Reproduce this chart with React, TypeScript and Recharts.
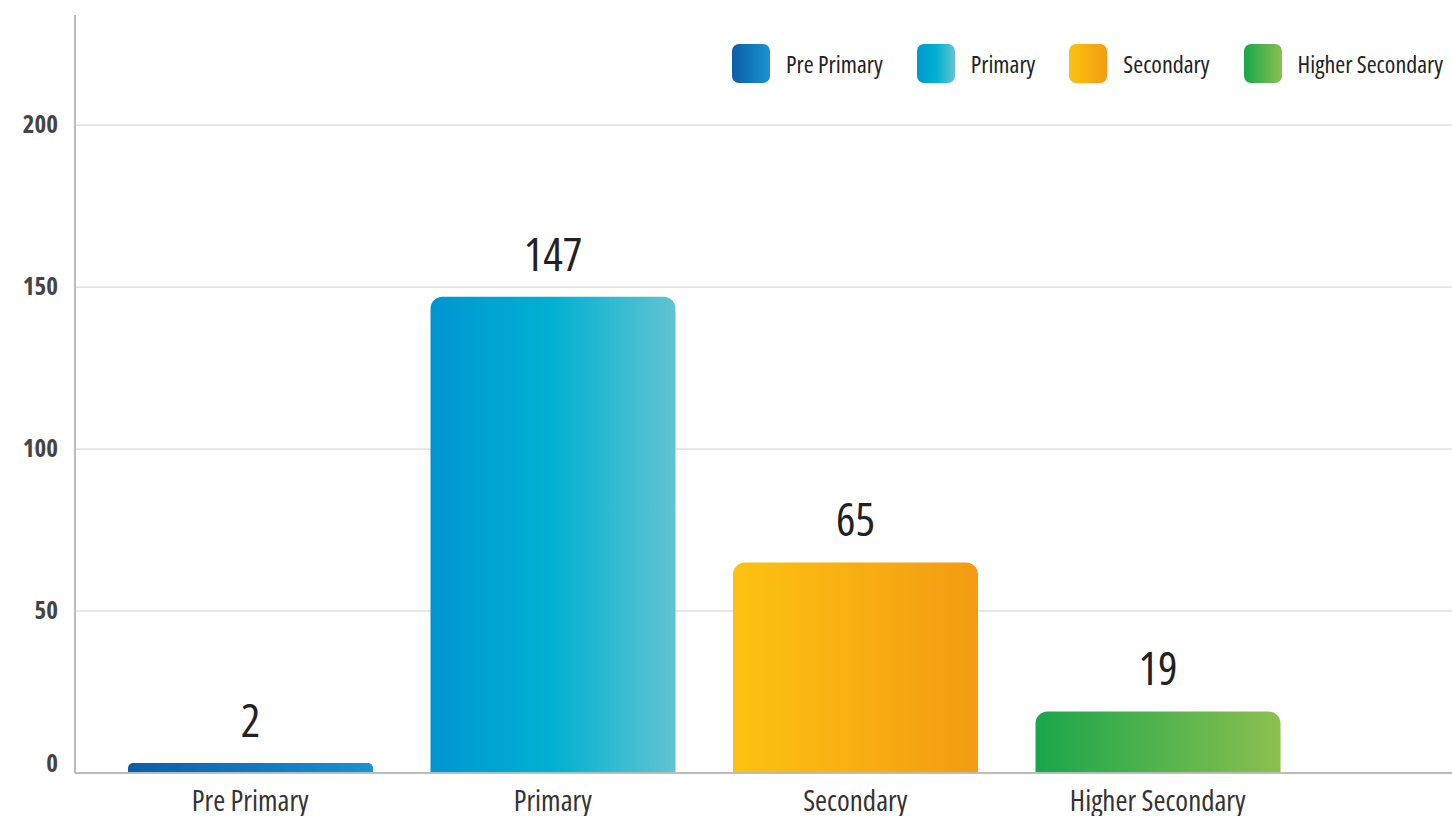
import React from 'react';
import { BarChart, Bar, XAxis, YAxis, CartesianGrid, Cell, LabelList } from 'recharts';

const categories = ['Pre Primary', 'Primary', 'Secondary', 'Higher Secondary'];
const values = [2, 147, 65, 19];
const yTicks = [0, 50, 100, 150, 200];

// horizontal gradient stops for each category
const GRADIENTS = [
  ['#0b5ea8', '#1a92d1'],
  ['#0096d1', '#00b1d1', '#62c4d1'],
  ['#fdc210', '#f39b12'],
  ['#19a64b', '#8cc04f'],
];

const FONT = "'Open Sans', 'DejaVu Sans Condensed', sans-serif";
const NARROW = { fontStretch: '75%' } as React.CSSProperties;

const data = categories.map((name, i) => ({ name, value: values[i] }));

// y tick; the baseline label is nudged up so it sits clear of the axis
const YTick = ({ x, y, payload }: any) => (
  <text
    x={x}
    y={y}
    dy={payload.value === 0 ? -1 : 8}
    textAnchor="end"
    fill="#444"
    fontSize={25}
    fontWeight="bold"
    fontFamily={FONT}
    style={NARROW}
  >
    {payload.value}
  </text>
);

const LegendBox: React.FC = () => (
  <div
    style={{
      position: 'absolute',
      top: 44,
      right: 9,
      display: 'flex',
      alignItems: 'center',
      fontFamily: FONT,
      fontSize: 24,
      color: '#222',
      ...NARROW,
    }}
  >
    {categories.map((c, i) => (
      <div key={c} style={{ display: 'flex', alignItems: 'center', marginLeft: i === 0 ? 0 : 34 }}>
        <div
          style={{
            width: 38,
            height: 39,
            borderRadius: 7,
            background: `linear-gradient(to right, ${GRADIENTS[i].join(', ')})`,
            marginRight: 16,
          }}
        />
        <span>{c}</span>
      </div>
    ))}
  </div>
);

export default function App() {
  return (
    <div style={{ position: 'absolute', left: 0, top: 0, width: 1452, height: 816, overflow: 'hidden', background: '#fff' }}>
      <BarChart
        width={1452}
        height={816}
        data={data}
        margin={{ top: 15, right: 0, bottom: 0, left: 0 }}
      >
        <defs>
          {GRADIENTS.map((stops, i) => (
            <linearGradient key={i} id={`grad${i}`} x1="0" y1="0" x2="1" y2="0">
              {stops.map((s, j) => (
                <stop key={j} offset={`${(j / (stops.length - 1)) * 100}%`} stopColor={s} />
              ))}
            </linearGradient>
          ))}
        </defs>
        <CartesianGrid vertical={false} stroke="#cfcfcf" strokeWidth={1} horizontalValues={yTicks} />
        <XAxis
          dataKey="name"
          height={43}
          padding={{ left: 24, right: 143 }}
          axisLine={{ stroke: '#bbbbbb', strokeWidth: 2 }}
          tickLine={false}
          tickSize={0}
          tickMargin={17}
          tick={{ fill: '#333', fontSize: 29, fontFamily: FONT, style: NARROW }}
        />
        <YAxis
          width={75}
          domain={[0, 234]}
          ticks={yTicks}
          axisLine={{ stroke: '#bbbbbb', strokeWidth: 2 }}
          tickLine={false}
          tickSize={0}
          tickMargin={17}
          tick={<YTick />}
        />
        <Bar dataKey="value" barSize={245} radius={[12, 12, 0, 0]} minPointSize={10} isAnimationActive={false}>
          {data.map((d, i) => (
            <Cell key={d.name} fill={`url(#grad${i})`} />
          ))}
          <LabelList dataKey="value" position="top" offset={26} fill="#222" fontSize={46} fontFamily={FONT} style={NARROW} />
        </Bar>
      </BarChart>
      <LegendBox />
    </div>
  );
}
